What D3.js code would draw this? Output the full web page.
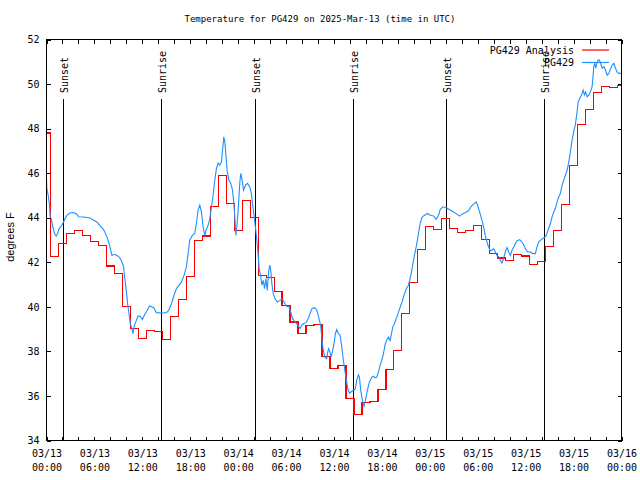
<!DOCTYPE html>
<html><head><meta charset="utf-8">
<script src="https://cdn.jsdelivr.net/npm/d3@7/dist/d3.min.js"></script>
<style>body{margin:0;background:#fff}</style>
</head><body>
<svg id="chart" width="640" height="480"></svg>
<script>
// ---- data ----
const chartTitle = "Temperature for PG429 on 2025-Mar-13 (time in UTC)";
const yLabel = "degrees F";
const seriesNames = ["PG429 Analysis", "PG429"];
// hourly analysis values, hour 0 .. 72 from 03/13 00:00 UTC
const analysisTemps = [
  47.8, 42.25, 42.84, 43.29, 43.42, 43.21, 42.93, 42.75, 41.83, 41.49,
  40.02, 39.02, 38.57, 38.93, 38.88, 38.54, 39.57, 40.34, 41.37, 42.96,
  43.18, 44.49, 45.90, 44.64, 43.44, 44.79, 44.02, 41.42, 41.31, 40.70,
  40.07, 39.32, 38.80, 39.16, 39.21, 37.78, 37.22, 37.37, 35.90, 35.17,
  35.71, 35.75, 36.28, 37.18, 38.03, 39.69, 41.11, 42.57, 43.59, 43.47,
  43.96, 43.51, 43.33, 43.44, 43.66, 43.02, 42.39, 42.19, 42.08, 42.35,
  42.28, 41.90, 42.04, 42.72, 43.44, 44.59, 46.36, 48.19, 48.86, 49.61,
  49.89, 49.85, 49.92
];
// station observations: [hours since 03/13 00:00 UTC, temperature F]
const observations = [
  [0,45.72],[0.04,45.31],[0.21,45.01],[0.38,44.56],[0.46,44.04],[0.63,43.89],[0.79,43.59],[1.0,43.29],
  [1.21,43.17],[1.38,43.29],[1.59,43.51],[1.92,43.66],[2.13,43.81],[2.34,43.96],[2.55,44.11],[2.97,44.22],
  [3.39,44.23],[3.80,44.16],[4.01,44.04],[4.64,44.03],[5.48,43.99],[5.90,43.89],[6.31,43.81],[6.73,43.62],
  [7.15,43.47],[7.57,43.14],[7.78,42.91],[7.99,42.62],[8.20,42.31],[8.49,42.36],[8.82,42.31],[9.16,42.21],
  [9.45,42.01],[9.66,41.79],[9.78,41.34],[9.99,40.74],[10.16,40.14],[10.33,39.69],[10.50,39.24],[10.70,39.02],
  [10.83,38.80],[11.0,39.17],[11.25,39.39],[11.46,39.59],[11.75,39.57],[12.0,39.43],[12.25,39.62],[12.59,39.84],
  [12.92,40.05],[13.21,39.99],[13.42,39.96],[13.76,39.74],[14.2,39.73],[14.59,39.72],[15.0,39.74],[15.30,39.84],
  [15.64,40.14],[15.97,40.52],[16.27,40.82],[16.68,41.01],[16.89,41.11],[17.23,41.42],[17.52,41.79],[17.73,42.39],
  [17.94,42.99],[18.27,43.21],[18.56,43.29],[18.77,43.74],[18.98,44.34],[19.19,44.56],[19.40,44.26],[19.61,43.59],
  [19.82,43.21],[20.03,43.51],[20.24,43.66],[20.45,43.96],[20.66,44.49],[20.86,45.01],[21.07,45.69],[21.28,46.21],
  [21.49,46.46],[21.70,46.36],[21.91,46.51],[22.04,47.03],[22.20,47.63],[22.33,47.41],[22.45,46.89],[22.62,46.13],
  [22.83,45.69],[23.08,45.54],[23.29,45.24],[23.46,44.64],[23.58,44.04],[23.71,43.21],[23.83,43.59],[24.0,44.34],
  [24.21,45.61],[24.34,45.99],[24.50,45.69],[24.67,45.24],[24.92,45.46],[25.17,45.54],[25.46,45.38],[25.67,45.05],
  [25.88,44.4],[26.05,43.9],[26.22,43.4],[26.38,42.84],[26.51,42.3],[26.63,41.7],[26.80,41.42],[26.97,40.97],
  [27.14,41.19],[27.30,40.82],[27.47,41.27],[27.64,40.74],[27.81,41.57],[27.97,41.87],[28.10,41.57],[28.22,41.04],
  [28.39,40.59],[28.60,40.37],[28.89,40.22],[29.23,40.29],[29.44,40.34],[29.65,40.29],[29.85,40.14],[30.06,40.02],
  [30.40,39.99],[30.57,39.77],[30.82,39.47],[31.11,39.32],[31.40,39.21],[31.74,39.02],[31.95,39.17],[32.15,39.24],
  [32.49,39.29],[32.78,39.47],[32.99,39.69],[33.24,39.92],[33.53,39.96],[33.74,39.92],[33.91,39.77],[34.12,39.47],
  [34.33,39.17],[34.50,38.49],[34.66,38.04],[34.87,37.74],[35.08,37.67],[35.21,37.97],[35.33,38.12],[35.50,37.97],
  [35.63,37.74],[35.79,37.97],[36.0,38.35],[36.17,38.80],[36.34,38.98],[36.54,38.80],[36.75,38.74],[36.96,38.25],
  [37.17,37.6],[37.38,37.1],[37.55,36.7],[37.75,36.3],[37.95,36.12],[38.2,36.2],[38.45,36.27],[38.65,36.3],
  [38.84,36.70],[39.05,36.95],[39.18,36.85],[39.35,36.25],[39.55,35.80],[39.76,35.54],[39.93,35.80],[40.18,36.25],
  [40.43,36.62],[40.73,36.84],[40.93,36.89],[41.14,36.82],[41.35,36.84],[41.56,37.07],[41.77,37.37],[41.98,37.60],
  [42.19,37.89],[42.40,38.31],[42.61,38.52],[42.82,38.64],[43.03,38.49],[43.15,38.72],[43.36,39.09],[43.57,39.24],
  [43.78,39.47],[43.95,39.62],[44.15,39.84],[44.36,40.07],[44.53,40.22],[44.70,40.44],[44.91,40.67],[45.12,40.86],
  [45.32,40.97],[45.53,41.27],[45.74,41.64],[45.95,42.09],[46.16,42.46],[46.37,42.84],[46.58,43.29],[46.79,43.74],
  [47.0,44.01],[47.21,44.08],[47.71,44.19],[48.04,44.11],[48.46,44.08],[48.80,43.93],[49.09,44.11],[49.30,44.38],
  [49.63,44.49],[50.05,44.45],[50.55,44.35],[50.97,44.26],[51.39,44.16],[51.72,44.07],[52.02,44.16],[52.43,44.22],
  [52.85,44.31],[53.14,44.49],[53.48,44.61],[53.81,44.71],[53.98,44.56],[54.23,44.26],[54.52,43.89],[54.73,43.59],
  [54.94,43.21],[55.15,42.91],[55.36,42.69],[55.57,42.51],[55.78,42.54],[55.99,42.61],[56.20,42.46],[56.41,42.31],
  [56.62,42.25],[56.82,42.09],[57.03,41.97],[57.24,42.17],[57.45,42.46],[57.66,42.66],[57.87,42.46],[58.08,42.31],
  [58.29,42.54],[58.50,42.69],[58.71,42.84],[58.91,42.96],[59.25,43.02],[59.54,42.91],[59.75,42.79],[59.96,42.61],
  [60.25,42.46],[60.59,42.46],[60.92,42.39],[61.21,42.39],[61.42,42.69],[61.63,42.91],[61.97,43.03],[62.26,43.09],
  [62.55,43.18],[62.80,43.44],[63.10,43.74],[63.31,44.04],[63.51,44.26],[63.72,44.41],[63.93,44.71],[64.14,44.93],
  [64.35,45.09],[64.56,45.46],[64.77,45.69],[64.98,45.91],[65.19,46.13],[65.40,46.51],[65.60,46.96],[65.81,47.48],
  [66.02,47.86],[66.23,48.19],[66.44,48.76],[66.57,49.20],[66.78,49.36],[66.99,49.51],[67.19,49.73],[67.36,49.51],
  [67.49,49.65],[67.70,49.43],[67.90,49.50],[68.11,49.65],[68.32,49.88],[68.45,50.40],[68.53,50.78],[68.66,50.93],
  [68.78,50.71],[68.91,50.93],[69.07,51.08],[69.24,51.08],[69.45,50.85],[69.58,50.71],[69.79,50.78],[69.99,50.63],
  [70.20,50.40],[70.41,50.48],[70.62,50.67],[70.83,50.85],[71.04,50.93],[71.25,50.71],[71.46,50.53],[71.67,50.48],
  [72.0,50.48]
];
const sunEvents = [
  {label:"Sunset", hour:2.05}, {label:"Sunrise", hour:14.37},
  {label:"Sunset", hour:26.05}, {label:"Sunrise", hour:38.32},
  {label:"Sunset", hour:50.07}, {label:"Sunrise", hour:62.3}
];
const xTickHours = [0,6,12,18,24,30,36,42,48,54,60,66,72];
const xTickDates = ["03/13","03/13","03/13","03/13","03/14","03/14","03/14","03/14","03/15","03/15","03/15","03/15","03/16"];
const xTickTimes = ["00:00","06:00","12:00","18:00","00:00","06:00","12:00","18:00","00:00","06:00","12:00","18:00","00:00"];
const yTicks = [34,36,38,40,42,44,46,48,50,52];

// ---- layout ----
const L = 46.5, R = 621.5, T = 39.5, B = 440.5;
const mono = "'DejaVu Sans Mono', 'Liberation Mono', monospace";
const svg = d3.select("#chart");
svg.append("rect").attr("width",640).attr("height",480).attr("fill","#fff");

const x = d3.scaleLinear().domain([0,72]).range([L,R]);
const y = d3.scaleLinear().domain([34,52]).range([B,T]);

// sun event lines
const sun = svg.append("g");
sunEvents.forEach(e => {
  const xx = Math.round(x(e.hour)) + 0.5;
  sun.append("line").attr("x1",xx).attr("x2",xx).attr("y1",99).attr("y2",B)
    .attr("stroke","#000").attr("stroke-width",1).attr("shape-rendering","crispEdges");
  sun.append("text").attr("transform",`translate(${xx+1},93) rotate(-90)`)
    .attr("dy","0.35em").attr("text-anchor","start")
    .attr("font-family",mono).attr("font-size",10).text(e.label);
});

// series
const redLine = d3.line().x((d,i)=>x(i)).y(d=>y(d)).curve(d3.curveStep);
svg.append("path").datum(analysisTemps).attr("d",redLine)
  .attr("fill","none").attr("stroke","#ff0000").attr("stroke-width",1.2)
  .attr("shape-rendering","crispEdges");
const blueLine = d3.line().x(d=>x(d[0])).y(d=>y(d[1]));
svg.append("path").datum(observations).attr("d",blueLine)
  .attr("fill","none").attr("stroke","#1e90ff").attr("stroke-width",1.1);

// axes
const xTickAll = d3.range(0,73,2);
const gx = svg.append("g").attr("transform",`translate(0,${B})`)
  .call(d3.axisBottom(x).tickValues(xTickAll).tickSizeInner(-4).tickSizeOuter(0).tickPadding(9)
    .tickFormat(h => xTickHours.includes(h) ? "x" : ""));
gx.selectAll("text").each(function(h){
  const t = d3.select(this);
  t.text(null);
  const i = xTickHours.indexOf(h);
  if (i < 0) return;
  t.append("tspan").attr("x",0).text(xTickDates[i]);
  t.append("tspan").attr("x",0).attr("dy","1.4em").text(xTickTimes[i]);
});
const gxt = svg.append("g").attr("transform",`translate(0,${T})`)
  .call(d3.axisTop(x).tickValues(xTickAll).tickSizeInner(-4).tickSizeOuter(0).tickFormat(""));
const gy = svg.append("g").attr("transform",`translate(${L},0)`)
  .call(d3.axisLeft(y).tickValues(yTicks).tickSizeInner(-4).tickSizeOuter(0).tickPadding(7).tickFormat(d3.format("d")));
const gyr = svg.append("g").attr("transform",`translate(${R},0)`)
  .call(d3.axisRight(y).tickValues(yTicks).tickSizeInner(-4).tickSizeOuter(0).tickFormat(""));
[gx,gxt,gy,gyr].forEach(g => {
  g.select(".domain").remove();
  g.attr("font-family",mono).attr("font-size",10);
  g.selectAll("line").attr("stroke","#000").attr("shape-rendering","crispEdges");
  g.selectAll("text").attr("fill","#000");
});

// frame
svg.append("rect").attr("x",L).attr("y",T).attr("width",R-L).attr("height",B-T)
  .attr("fill","none").attr("stroke","#000").attr("shape-rendering","crispEdges");

// title & y label
svg.append("text").attr("x",320).attr("y",19).attr("dy","0.35em").attr("text-anchor","middle")
  .attr("font-family",mono).attr("font-size",9).text(chartTitle);
svg.append("text").attr("transform","translate(10,237) rotate(-90)").attr("dy","0.35em")
  .attr("text-anchor","middle").attr("font-family","'Liberation Sans', Arial, sans-serif")
  .attr("font-size",11).text(yLabel);

// legend
const legColors = ["#ff0000","#1e90ff"];
const legY = [50, 62.5];
seriesNames.forEach((n,i) => {
  svg.append("text").attr("x",574).attr("y",legY[i]).attr("dy","0.35em").attr("text-anchor","end")
    .attr("font-family",mono).attr("font-size",10).text(n);
  svg.append("line").attr("x1",582).attr("x2",609).attr("y1",legY[i]).attr("y2",legY[i])
    .attr("stroke",legColors[i]).attr("stroke-width",1.2);
});
</script>
</body></html>
